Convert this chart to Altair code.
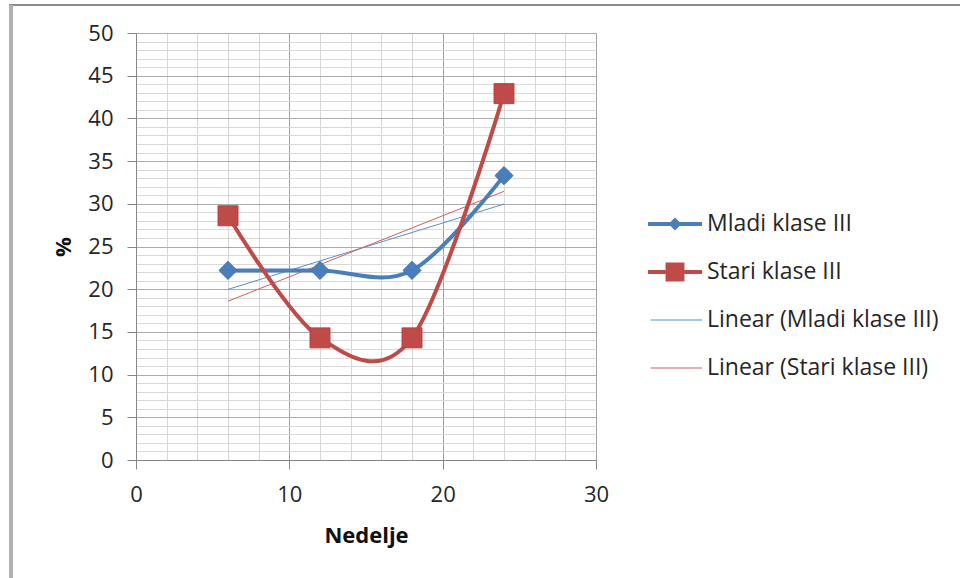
import altair as alt
import pandas as pd

# ---- data ----
weeks = [6, 12, 18, 24]
mladi = [22.2, 22.2, 22.2, 33.3]
stari = [28.6, 14.3, 14.3, 42.9]
series_names = ["Mladi klase III", "Stari klase III"]
legend_labels = ["Mladi klase III", "Stari klase III",
                 "Linear (Mladi klase III)", "Linear (Stari klase III)"]
x_grid = [0, 2, 4, 6, 8, 10, 12, 14, 16, 18, 20, 22, 24, 26, 28, 30]
y_grid = list(range(0, 51))

df = pd.DataFrame({
    "week": weeks * 2,
    "value": mladi + stari,
    "series": [series_names[0]] * 4 + [series_names[1]] * 4,
})
df_leg = pd.DataFrame({"series": legend_labels})

colors = ["#4A7EBB", "#BE4B48", "#5B8DCB", "#D0605D"]
FONT = "Open Sans"
FS = 22
TXT = "#262626"

color_scale = alt.Scale(domain=legend_labels, range=colors)

xs = alt.Scale(domain=[0, 30], nice=False, zero=False)
ys = alt.Scale(domain=[0, 50], nice=False, zero=False)

x_axis = alt.Axis(
    values=x_grid, tickCount=40, title="Nedelje", grid=True, format="d",
    gridColor={"condition": {"test": "datum.value % 10 === 0", "value": "#a0a0a0"}, "value": "#d6d6d6"},
    tickOpacity={"condition": {"test": "datum.value % 10 === 0", "value": 1}, "value": 0},
    tickColor="#868686", tickSize=9, domainColor="#868686",
    labelExpr="datum.value % 10 === 0 ? datum.label : ''",
    labelOverlap=False, labelFlush=False,
    labelFont=FONT, labelFontSize=FS, labelColor=TXT, labelPadding=15,
    titleFont=FONT, titleFontSize=FS, titleFontWeight="bold", titleColor="#111", titlePadding=20,
)
y_axis = alt.Axis(
    values=y_grid, tickCount=100, title="%", grid=True, format="d",
    gridColor={"condition": {"test": "datum.value % 5 === 0", "value": "#ababab"}, "value": "#d9d9d9"},
    tickOpacity={"condition": {"test": "datum.value % 5 === 0", "value": 1}, "value": 0},
    tickColor="#868686", tickSize=9, domainColor="#868686",
    labelExpr="datum.value % 5 === 0 ? datum.label : ''",
    labelOverlap=False, labelFlush=False,
    labelFont=FONT, labelFontSize=FS, labelColor=TXT, labelPadding=14,
    titleFont=FONT, titleFontSize=FS, titleFontWeight="bold", titleColor="#111", titlePadding=12,
)

X = alt.X("week:Q", scale=xs, axis=x_axis)
Y = alt.Y("value:Q", scale=ys, axis=y_axis)

P_M = "M-1,-0.075H1V0.075H-1Z M-0.24,0L0,-0.24L0.24,0L0,0.24Z"
P_S = "M-1,-0.075H1V0.075H-1Z M-0.35,-0.35H0.35V0.35H-0.35Z"
P_L = "M-0.9,-0.02H1V0.02H-0.9Z"

leg = alt.Legend(
    title=None, orient="none", legendX=512, legendY=164,
    symbolSize=2916, symbolStrokeWidth=0, symbolOpacity=1,
    labelFont=FONT, labelFontSize=23, labelColor=TXT, labelOffset=5, labelLimit=0,
    rowPadding=9, padding=0,
)

# legend-only layer (invisible marks)
legend_layer = alt.Chart(df_leg).mark_point(filled=True, opacity=0, size=1).encode(
    color=alt.Color("series:N", scale=color_scale, legend=leg),
    shape=alt.Shape("series:N", scale=alt.Scale(domain=legend_labels, range=[P_M, P_S, P_L, P_L]), legend=leg),
)

base = alt.Chart(df)

lines = base.mark_line(interpolate="cardinal", strokeWidth=4).encode(
    x=X, y=Y,
    color=alt.Color("series:N", scale=color_scale, legend=None),
    detail="series:N",
)

trend = base.transform_regression(
    "week", "value", groupby=["series"]
).transform_calculate(
    series="'Linear (' + datum.series + ')'"
).mark_line(strokeWidth=1).encode(
    x=X, y=Y,
    color=alt.Color("series:N", scale=color_scale, legend=None),
    detail="series:N",
)

pts_m = base.transform_filter(alt.datum.series == series_names[0]).mark_point(
    shape="diamond", filled=True, size=330, opacity=1, strokeWidth=1, stroke="#3F74B5"
).encode(
    x=X, y=Y,
    color=alt.Color("series:N", scale=color_scale, legend=None),
)
pts_s = base.transform_filter(alt.datum.series == series_names[1]).mark_point(
    shape="square", filled=True, size=400, opacity=1, strokeWidth=1, stroke="#B54542"
).encode(
    x=X, y=Y,
    color=alt.Color("series:N", scale=color_scale, legend=None),
)

border_top = alt.Chart(df).mark_rule(color="#8a8a8a", strokeWidth=2).encode(
    x=alt.value(-127), x2=alt.value(830), y=alt.value(-28)
)
border_left = alt.Chart(df).mark_rule(color="#b0b0b0", strokeWidth=3).encode(
    x=alt.value(-125), y=alt.value(-28), y2=alt.value(560)
)

chart = alt.layer(
    legend_layer, trend, lines, pts_m, pts_s, border_top, border_left
).properties(
    width=460, height=427,
    autosize=alt.AutoSizeParams(type="none"),
    padding={"left": 136, "top": 33, "right": 364, "bottom": 118},
).configure_view(stroke=None).configure(background="white")

chart.save("out.html", embed_options={"renderer": "svg", "actions": False})
